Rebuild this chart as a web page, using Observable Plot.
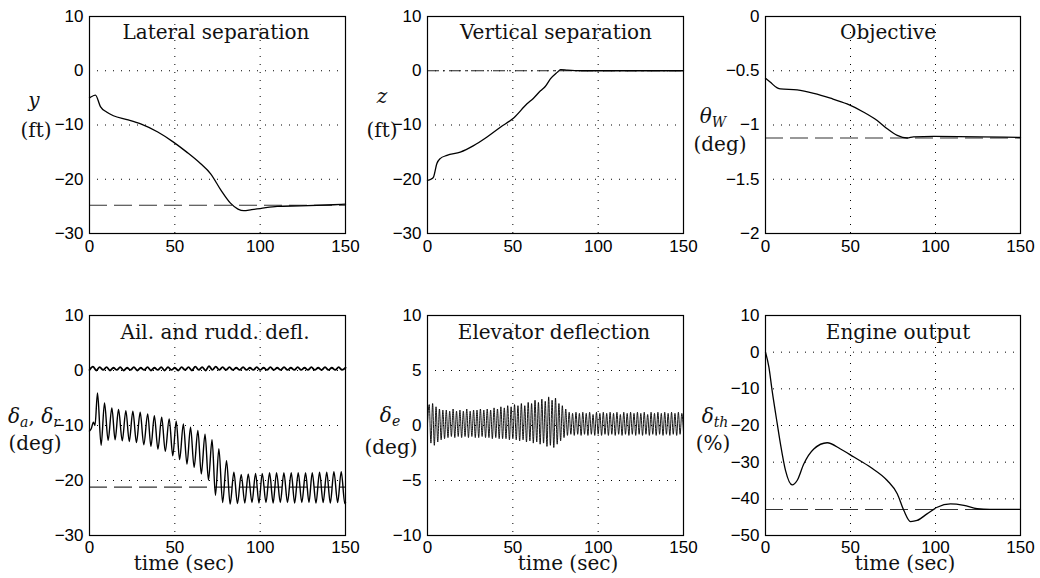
<!DOCTYPE html>
<html><head><meta charset="utf-8">
<script src="https://cdn.jsdelivr.net/npm/d3@7"></script>
<script src="https://cdn.jsdelivr.net/npm/@observablehq/plot@0.6"></script>
<style>
html,body{margin:0;padding:0;background:#fff;}
#wrap{position:relative;width:1040px;height:578px;overflow:hidden;background:#fff;}
#wrap svg.panel{position:absolute;}
#labels{position:absolute;left:0;top:0;z-index:5;pointer-events:none;}
#labels text{font-family:"DejaVu Serif",serif;font-size:20px;fill:#111;}
#labels .it{font-style:italic;}
</style></head><body>
<div id="wrap">
<svg id="labels" width="1040" height="578" xmlns="http://www.w3.org/2000/svg">
  <text x="216" y="39" text-anchor="middle">Lateral separation</text>
  <text x="556" y="39" text-anchor="middle">Vertical separation</text>
  <text x="888" y="39" text-anchor="middle">Objective</text>
  <text x="215" y="339" text-anchor="middle">Ail. and rudd. defl.</text>
  <text x="554" y="339" text-anchor="middle">Elevator deflection</text>
  <text x="898" y="339" text-anchor="middle">Engine output</text>

  <text x="34" y="107" text-anchor="middle" class="it">y</text>
  <text x="36" y="137" text-anchor="middle">(ft)</text>
  <text x="382" y="103" text-anchor="middle" class="it">z</text>
  <text x="382" y="137" text-anchor="middle">(ft)</text>
  <text x="713" y="123" text-anchor="middle"><tspan class="it">θ</tspan><tspan class="it" font-size="14" dy="4">W</tspan></text>
  <text x="720" y="151" text-anchor="middle">(deg)</text>
  <text x="34" y="423" text-anchor="middle"><tspan class="it">δ</tspan><tspan class="it" font-size="14" dy="4">a</tspan><tspan dy="-4">, </tspan><tspan class="it">δ</tspan><tspan class="it" font-size="14" dy="4">r</tspan></text>
  <text x="35" y="450" text-anchor="middle">(deg)</text>
  <text x="390" y="422" text-anchor="middle"><tspan class="it">δ</tspan><tspan class="it" font-size="14" dy="4">e</tspan></text>
  <text x="391" y="454" text-anchor="middle">(deg)</text>
  <text x="715" y="423" text-anchor="middle"><tspan class="it">δ</tspan><tspan class="it" font-size="14" dy="4">th</tspan></text>
  <text x="713" y="450" text-anchor="middle">(%)</text>

  <text x="184" y="570" text-anchor="middle">time (sec)</text>
  <text x="568" y="570" text-anchor="middle">time (sec)</text>
  <text x="905" y="570" text-anchor="middle">time (sec)</text>
</svg>
</div>
<script>
// ---------- shared ticks ----------
const xTicks = [0, 50, 100, 150];
const xGrid = [50, 100];

// ---------- Lateral separation ----------
const latT = [0, 1, 3.5, 6.4, 10, 14, 22, 30, 40, 49.4, 57, 65, 71, 77, 82.6, 87, 90.4, 95, 100, 110, 123.6, 143, 150];
const latY = [-5, -4.8, -4.5, -6.6, -7.6, -8.3, -9.0, -9.8, -11.3, -13.2, -15.0, -17.1, -19.0, -22.0, -24.4, -25.5, -25.8, -25.6, -25.4, -25.0, -24.9, -24.7, -24.6];
const latRef = -24.8;
const latTicks = [10, 0, -10, -20, -30];

// ---------- Vertical separation ----------
const vertT = [0, 2, 3.5, 5.5, 7.4, 11.4, 19.2, 27, 34.9, 42.7, 50.5, 58.3, 62, 66.2, 69, 72, 76, 78, 82, 90, 100, 120, 150];
const vertY = [-20.2, -20.0, -19.6, -17.1, -16.2, -15.6, -15.0, -13.8, -12.2, -10.4, -8.7, -6.1, -5.1, -3.7, -2.9, -1.5, -0.3, 0.2, 0.1, 0.0, 0.0, 0.0, 0.0];
const vertRef = 0;
const vertTicks = [10, 0, -10, -20, -30];

// ---------- Objective ----------
const objT = [0, 2.9, 6.9, 8.8, 18.6, 28.4, 38.2, 48, 57.8, 65.7, 71.6, 77.5, 83.3, 87, 99, 150];
const objY = [-0.57, -0.607, -0.658, -0.668, -0.677, -0.708, -0.753, -0.806, -0.882, -0.959, -1.035, -1.096, -1.12, -1.11, -1.105, -1.115];
const objRef = -1.12;
const objTicks = [0, -0.5, -1, -1.5, -2];

// ---------- Aileron and rudder deflection ----------
const ailT = [0, 1, 2.3, 3.2, 4.7, 6.8, 8.8, 10.9, 13.1, 15.0, 17.0, 19.2, 21.3, 23.3, 25.4, 27.5, 29.7, 31.8, 34.1, 36.0, 38.0, 40.1, 42.3, 44.4, 46.7, 48.8, 50.8, 52.8, 55.0, 57.1, 59.2, 61.3, 63.5, 65.5, 67.7, 69.7, 71.8, 73.8, 75.8, 78.0, 80.3, 82.4, 84.6, 86.7, 88.9, 91.0, 93.0, 95.2, 97.3, 99.3, 101.2, 103.4, 105.5, 107.6, 109.6, 111.8, 113.9, 116.0, 118.2, 120.2, 122.3, 124.4, 126.6, 128.6, 130.5, 132.7, 134.8, 136.9, 139.0, 141.1, 143.2, 145.4, 147.5, 149.6, 150];
const ailY = [-11.0, -10.6, -9.4, -10.0, -4.1, -13.6, -5.9, -12.7, -6.8, -12.6, -7.1, -12.8, -7.3, -12.9, -7.4, -13.1, -7.6, -13.5, -7.9, -13.8, -8.2, -14.3, -8.5, -14.7, -8.8, -15.5, -9.2, -16.2, -9.7, -17.0, -10.3, -17.6, -10.9, -18.8, -11.6, -19.9, -12.6, -22.7, -14.2, -24.0, -16.4, -24.3, -18.5, -24.2, -18.9, -24.1, -18.8, -24.0, -18.7, -24.1, -18.7, -24.0, -18.6, -24.1, -18.6, -24.0, -18.6, -24.0, -18.6, -24.1, -18.6, -24.0, -18.6, -24.0, -18.6, -24.1, -18.5, -24.0, -18.5, -24.1, -18.4, -24.0, -18.4, -24.2, -24.0];
const ruddT = [0, 2, 4, 6, 8, 10, 12, 14, 16, 18, 20, 22, 24, 26, 28, 30, 32, 34, 36, 38, 40, 42, 44, 46, 48, 50, 52, 54, 56, 58, 60, 62, 64, 66, 68, 70, 72, 74, 76, 78, 80, 82, 84, 86, 88, 90, 92, 94, 96, 98, 100, 102, 104, 106, 108, 110, 112, 114, 116, 118, 120, 122, 124, 126, 128, 130, 132, 134, 136, 138, 140, 142, 144, 146, 148, 150];
const ruddY = [0.1, 0.7, 0.0, 0.6, 0.1, 0.6, 0.0, 0.5, 0.1, 0.6,
  0.0, 0.5, 0.1, 0.6, 0.0, 0.5, 0.1, 0.6, 0.0, 0.5,
  0.1, 0.6, 0.0, 0.6, 0.1, 0.5, 0.0, 0.6, 0.1, 0.6,
  0.0, 0.7, 0.1, 0.6, 0.0, 0.8, 0.1, 0.7, 0.1, 0.6,
  0.1, 0.6, 0.1, 0.5, 0.1, 0.6, 0.1, 0.5, 0.1, 0.6,
  0.1, 0.5, 0.1, 0.6, 0.1, 0.5, 0.1, 0.6, 0.1, 0.5,
  0.1, 0.6, 0.1, 0.5, 0.1, 0.6, 0.1, 0.5, 0.1, 0.6,
  0.1, 0.5, 0.1, 0.6, 0.1, 0.5];
const ailRef = -21.2;
const ailTicks = [10, 0, -10, -20, -30];

// ---------- Elevator deflection ----------
const elevT = [0,1,2,3,4,5,6,7,8,9,10,11,12,13,14,15,16,17,18,19,20,21,22,23,24,25,26,27,28,29,30,31,32,33,34,35,36,37,38,39,40,41,42,43,44,45,46,47,48,49,50,51,52,53,54,55,56,57,58,59,60,61,62,63,64,65,66,67,68,69,70,71,72,73,74,75,76,77,78,79,80,81,82,83,84,85,86,87,88,89,90,91,92,93,94,95,96,97,98,99,100,101,102,103,104,105,106,107,108,109,110,111,112,113,114,115,116,117,118,119,120,121,122,123,124,125,126,127,128,129,130,131,132,133,134,135,136,137,138,139,140,141,142,143,144,145,146,147,148,149,150];
const elevY = [0.2, 1.9, -1.6, 2.0, -1.8, 1.7, -1.5, 1.5, -1.3, 1.4,
  -1.2, 1.4, -1.1, 1.3, -1.0, 1.5, -1.1, 1.3, -1.0, 1.4,
  -1.1, 1.3, -1.0, 1.5, -1.1, 1.3, -1.0, 1.4, -1.1, 1.4,
  -1.1, 1.5, -1.0, 1.4, -1.1, 1.5, -1.1, 1.4, -1.2, 1.6,
  -1.1, 1.5, -1.2, 1.7, -1.2, 1.6, -1.2, 1.8, -1.3, 1.7,
  -1.2, 1.9, -1.3, 1.8, -1.4, 2.0, -1.3, 1.8, -1.5, 2.1,
  -1.4, 2.0, -1.6, 2.3, -1.5, 2.1, -1.7, 2.4, -1.6, 2.2,
  -1.9, 2.6, -1.8, 2.3, -2.0, 2.5, -1.7, 2.0, -1.4, 1.8,
  -1.1, 1.5, -0.9, 1.2, -0.8, 1.1, -0.9, 1.2, -0.8, 1.1,
  -0.9, 1.2, -0.8, 1.1, -0.9, 1.2, -0.8, 1.0, -0.9, 1.2,
  -0.8, 1.1, -0.9, 1.2, -0.8, 1.1, -0.9, 1.2, -0.8, 1.1,
  -0.9, 1.2, -0.8, 1.0, -0.9, 1.2, -0.8, 1.1, -0.9, 1.2,
  -0.8, 1.1, -0.9, 1.2, -0.8, 1.1, -0.9, 1.2, -0.8, 1.0,
  -0.9, 1.2, -0.8, 1.1, -0.9, 1.2, -0.8, 1.1, -0.9, 1.2,
  -0.8, 1.1, -0.9, 1.2, -0.8, 1.1, -0.9, 1.2, -0.8, 1.1,
  -0.6];
const elevTicks = [10, 5, 0, -5, -10];

// ---------- Engine output ----------
const engT = [0, 2, 3.9, 6.9, 8.8, 11.8, 15.7, 18.6, 22.5, 28.4, 36.3, 44.1, 52, 61.8, 71.6, 77.5, 81.4, 85.3, 89.2, 95, 101, 108.8, 116.7, 124.5, 132, 150];
const engY = [0, -4.1, -10.5, -19.5, -25, -32.3, -36.2, -35, -30.5, -26.4, -24.7, -26.4, -28.6, -31.4, -35, -38.6, -43.2, -46.2, -45.9, -44.1, -42.3, -41.4, -41.8, -42.7, -42.9, -42.9];
const engRef = -42.9;
const engTicks = [10, 0, -10, -20, -30, -40, -50];

// ---------- drawing ----------
const fmt = d => (d < 0 ? "\u2212" : "") + Math.abs(d);
const wrap = document.getElementById("wrap");
const labels = document.getElementById("labels");

function panel({left, top, w, h, yTicks, xPad, marks}) {
  const mL = 60, mR = 20, mT = 10, mB = 34;
  const yDomain = [d3.min(yTicks), d3.max(yTicks)];
  const yGrid = yTicks.filter(v => v !== yDomain[0] && v !== yDomain[1]);
  const svg = Plot.plot({
    width: w + mL + mR, height: h + mT + mB,
    marginLeft: mL, marginRight: mR, marginTop: mT, marginBottom: mB,
    x: {domain: [0, 150]},
    y: {domain: yDomain},
    style: {background: "transparent", overflow: "visible", fontFamily: "'Liberation Sans', Arial, sans-serif", fontSize: "17px", color: "#000"},
    marks: [
      Plot.gridX({ticks: xGrid, stroke: "#000", strokeOpacity: 1, strokeWidth: 1, strokeDasharray: "1,7"}),
      Plot.gridY({ticks: yGrid, stroke: "#000", strokeOpacity: 1, strokeWidth: 1, strokeDasharray: "1,7"}),
      ...marks,
      Plot.frame({stroke: "#000", strokeWidth: 1.2}),
      Plot.axisX({ticks: xTicks, tickSize: 0, tickPadding: xPad, tickFormat: fmt, fontSize: 17, fill: "#000", label: null}),
      Plot.axisY({ticks: yTicks, tickSize: 0, tickPadding: 6, tickFormat: fmt, fontSize: 17, fill: "#000", label: null})
    ]
  });
  svg.classList.add("panel");
  svg.style.left = (left - mL) + "px";
  svg.style.top = (top - mT) + "px";
  wrap.insertBefore(svg, labels);
}

const lineOpts = {curve: "monotone-x", stroke: "#000", strokeWidth: 1.3};
const dashOpts = {stroke: "#333", strokeWidth: 1.1, strokeDasharray: "18,7"};

panel({left: 89, top: 16, w: 256, h: 217, yTicks: latTicks, xPad: 6, marks: [
  Plot.ruleY([latRef], dashOpts),
  Plot.line(latY, {x: latT, y: latY, ...lineOpts})
]});
panel({left: 427, top: 16, w: 256, h: 217, yTicks: vertTicks, xPad: 6, marks: [
  Plot.ruleY([vertRef], {stroke: "#222", strokeWidth: 1.2, strokeDasharray: "12,4,2,4"}),
  Plot.line(vertY, {x: vertT, y: vertY, ...lineOpts})
]});
panel({left: 765, top: 16, w: 255, h: 217, yTicks: objTicks, xPad: 6, marks: [
  Plot.ruleY([objRef], dashOpts),
  Plot.line(objY, {x: objT, y: objY, ...lineOpts})
]});
panel({left: 89, top: 315, w: 256, h: 220, yTicks: ailTicks, xPad: 5, marks: [
  Plot.ruleY([ailRef], dashOpts),
  Plot.line(ruddY, {x: ruddT, y: ruddY, curve: "monotone-x", stroke: "#000", strokeWidth: 1.8}),
  Plot.line(ailY, {x: ailT, y: ailY, curve: "monotone-x", stroke: "#000", strokeWidth: 1.4})
]});
panel({left: 427, top: 315, w: 256, h: 220, yTicks: elevTicks, xPad: 5, marks: [
  Plot.line(elevY, {x: elevT, y: elevY, curve: "monotone-x", stroke: "#000", strokeWidth: 0.9})
]});
panel({left: 765, top: 315, w: 255, h: 220, yTicks: engTicks, xPad: 5, marks: [
  Plot.ruleY([engRef], dashOpts),
  Plot.line(engY, {x: engT, y: engY, ...lineOpts})
]});
</script>
</body></html>
